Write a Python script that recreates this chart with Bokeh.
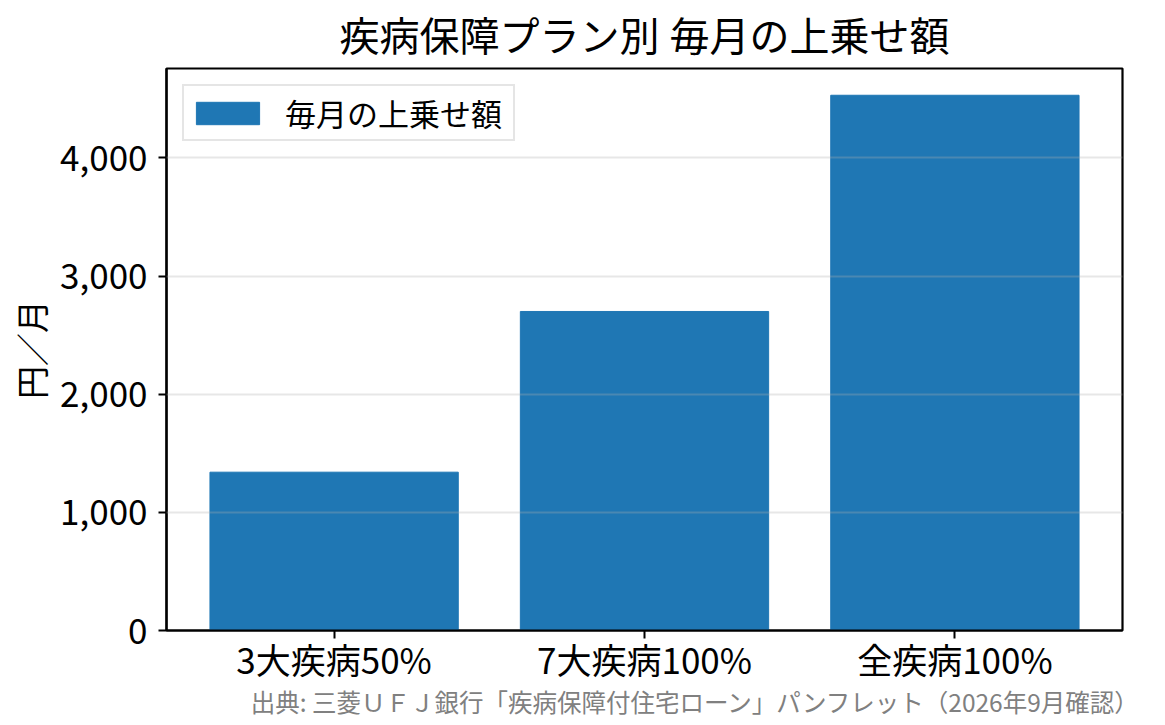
from bokeh.plotting import figure
from bokeh.models import (Range1d, FixedTicker, NumeralTickFormatter, Title,
                          ColumnDataSource)
from bokeh.embed import file_html
from bokeh.resources import INLINE

# data
categories = ["3大疾病50%", "7大疾病100%", "全疾病100%"]
monthly_extra = [1340, 2700, 4530]
y_ticks = [0, 1000, 2000, 3000, 4000]

title_text = "疾病保障プラン別 毎月の上乗せ額"
series_name = "毎月の上乗せ額"
y_label = "円／月"
source_note = "出典: 三菱ＵＦＪ銀行「疾病保障付住宅ローン」パンフレット（2026年9月確認）"

FONT = "Noto Sans CJK JP"
# Lato first only so the title box is measured shorter; the CJK glyphs fall back to Noto
TITLE_FONT = "Lato, 'Noto Sans CJK JP'"
FRAME_W, FRAME_H = 956, 562

xs = list(range(len(categories)))
src = ColumnDataSource(data=dict(x=xs, y=monthly_extra))

p = figure(frame_width=FRAME_W, frame_height=FRAME_H,
           output_backend="svg", toolbar_location=None,
           x_range=Range1d(-0.54, len(categories) - 1 + 0.54),
           y_range=Range1d(0, max(monthly_extra) * 1.05),
           min_border_left=166, min_border_right=27,
           min_border_top=67, min_border_bottom=88)

p.title.text = title_text
p.title.align = "center"
p.title.text_font = TITLE_FONT
p.title.text_font_size = "40px"
p.title.text_font_style = "normal"
p.title.text_color = "black"
p.title.standoff = 18

p.vbar(x="x", top="y", width=0.8, source=src, color="#1f77b4",
       legend_label=series_name)

# axes
p.xaxis.ticker = FixedTicker(ticks=xs)
p.xaxis.major_label_overrides = {i: c for i, c in zip(xs, categories)}
p.yaxis.ticker = FixedTicker(ticks=y_ticks)
p.yaxis.formatter = NumeralTickFormatter(format="0,0")
p.yaxis.axis_label = y_label

for ax in (p.xaxis, p.yaxis):
    ax.major_label_text_font = FONT
    ax.major_label_text_font_size = "35px"
    ax.major_label_text_color = "black"
    ax.axis_label_text_font = FONT
    ax.axis_label_text_font_size = "33px"
    ax.axis_label_text_font_style = "normal"
    ax.axis_label_text_color = "black"
    ax.axis_line_width = 2.2
    ax.axis_line_color = "black"
    ax.major_tick_line_width = 2
    ax.major_tick_out = 8
    ax.major_tick_in = 0
    ax.minor_tick_line_color = None
p.xaxis.major_label_standoff = -6
p.yaxis.major_label_standoff = 11
p.yaxis.axis_label_standoff = 2

p.outline_line_color = "black"
p.outline_line_width = 2.2

p.xgrid.grid_line_color = None
p.ygrid.grid_line_color = "#b0b0b0"
p.ygrid.grid_line_alpha = 0.3
p.ygrid.grid_line_width = 2
p.ygrid.level = "overlay"

# legend
p.legend.location = "top_left"
p.legend.margin = 16
p.legend.padding = 4
p.legend.glyph_width = 79
p.legend.glyph_height = 28
p.legend.label_standoff = 18
p.legend.label_width = 224
p.legend.label_text_font = FONT
p.legend.label_text_font_size = "31px"
p.legend.label_text_color = "black"
p.legend.border_line_color = "#cccccc"
p.legend.border_line_width = 2
p.legend.background_fill_alpha = 0.8

# source note under the chart, right aligned
note = Title(text=source_note, align="right", text_font=FONT,
             text_font_size="24.5px", text_font_style="normal",
             text_color="#808080", offset=-17, standoff=-10)
p.add_layout(note, "below")

open("out.html", "w").write(file_html(p, INLINE))
